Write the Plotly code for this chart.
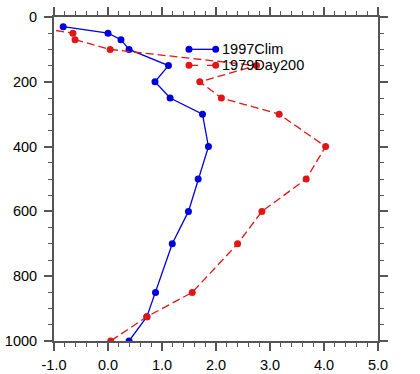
import plotly.graph_objects as go

levels = [30, 50, 70, 100, 150, 200, 250, 300, 400, 500, 600, 700, 850, 925, 1000]
clim_1997 = [-0.83, 0.0, 0.24, 0.39, 1.12, 0.87, 1.15, 1.75, 1.86, 1.67, 1.49, 1.19, 0.88, 0.72, 0.39]
day200_1979 = [-1.4, -0.65, -0.61, 0.04, 2.75, 1.70, 2.10, 3.17, 4.03, 3.67, 2.85, 2.40, 1.56, 0.72, 0.05]

x_ticks = [-1, 0, 1, 2, 3, 4, 5]
x_labels = ["-1.0", "0.0", "1.0", "2.0", "3.0", "4.0", "5.0"]
y_ticks = [0, 200, 400, 600, 800, 1000]
y_labels = ["0", "200", "400", "600", "800", "1000"]

names = ["1997Clim", "1979Day200"]
BLUE = "#0000dd"
RED = "#e01515"
AXC = "#555555"
FONT = "Liberation Sans, Arial, sans-serif"

fig = go.Figure()
fig.add_trace(go.Scatter(x=clim_1997, y=levels, mode="lines+markers", name=names[0],
                         line=dict(color=BLUE, width=1.3),
                         marker=dict(color=BLUE, size=7), cliponaxis=True))
fig.add_trace(go.Scatter(x=day200_1979, y=levels, mode="lines+markers", name=names[1],
                         line=dict(color=RED, width=1.3, dash="8px,4px"),
                         marker=dict(color=RED, size=7), cliponaxis=True))

axis_common = dict(showgrid=False, zeroline=False, showline=True, linecolor=AXC, linewidth=2,
                   mirror="allticks", ticks="outside", ticklen=8, tickwidth=1.5, tickcolor=AXC,
                   tickfont=dict(family=FONT, size=14.5, color="black"))

fig.update_xaxes(range=[-1, 5], tickmode="array", tickvals=x_ticks, ticktext=x_labels,
                 minor=dict(dtick=0.2, ticks="outside", ticklen=4, tickwidth=1.2, tickcolor=AXC),
                 ticklabelstandoff=2, **axis_common)
fig.update_yaxes(range=[1000, 0], tickmode="array", tickvals=y_ticks, ticktext=y_labels,
                 minor=dict(dtick=50, ticks="outside", ticklen=4, tickwidth=1.2, tickcolor=AXC),
                 ticklabelstandoff=4, **axis_common)

# body margin removed by post_script, so the plot area sits at window px 54..378 / 17..341
W, H = 420, 374
ml, mr, mt, mb = 54, 42, 17, 33
pw, ph = W - ml - mr, H - mt - mb

def px(xw):
    return (xw - ml) / pw

def py(yw):
    return 1 - (yw - mt) / ph

# custom legend (NCL style: line with markers at both ends)
leg = [(names[0], BLUE, "solid", 49.3), (names[1], RED, "dash", 65.3)]
for name, col, dash, yy in leg:
    fig.add_shape(type="line", xref="paper", yref="paper", x0=px(189), x1=px(215.7),
                  y0=py(yy), y1=py(yy), line=dict(color=col, width=1.3, dash=dash))
    for xx in (189, 215.7):
        fig.add_shape(type="circle", xref="paper", yref="paper",
                      x0=px(xx - 3.5), x1=px(xx + 3.5), y0=py(yy - 3.5), y1=py(yy + 3.5),
                      fillcolor=col, line=dict(color=col, width=0))
    fig.add_annotation(text=name, xref="paper", yref="paper", x=px(219.5), y=py(yy),
                       xanchor="left", yanchor="middle", showarrow=False,
                       font=dict(family=FONT, size=14.5, color="black"))

fig.update_layout(width=W, height=H, margin=dict(l=ml, r=mr, t=mt, b=mb, autoexpand=False),
                  plot_bgcolor="white", paper_bgcolor="white", showlegend=False)

fig.write_html("out.html", config={"displayModeBar": False},
               post_script="document.body.style.margin='0';document.body.style.padding='0';")
